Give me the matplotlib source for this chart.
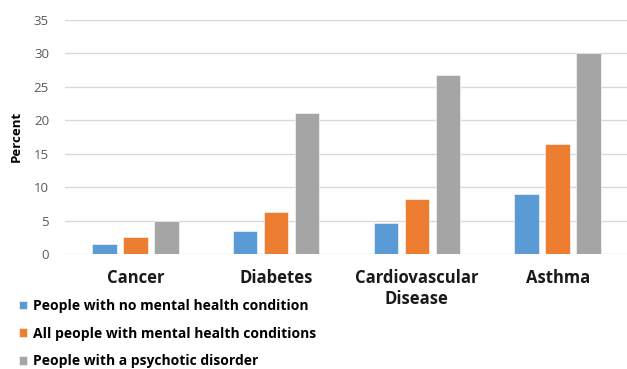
import matplotlib
matplotlib.use("Agg")
from matplotlib import pyplot as plt
import numpy as np

# Podaci
kategorije = ["Cancer", "Diabetes", "Cardiovascular\nDisease", "Asthma"]
bez_mentalnih = [1.5, 3.5, 4.6, 9.0]
sa_mentalnim = [2.6, 6.2, 8.2, 16.5]
psihoticni = [5.0, 21.0, 26.7, 30.0]
serije = [
    ("People with no mental health condition", bez_mentalnih, "#5B9BD5"),
    ("All people with mental health conditions", sa_mentalnim, "#ED7D31"),
    ("People with a psychotic disorder", psihoticni, "#A5A5A5"),
]
y_ticks = [0, 5, 10, 15, 20, 25, 30, 35]

plt.rcParams['font.family'] = ['Open Sans', 'DejaVu Sans']

fig = plt.figure(figsize=(6.27, 3.69), dpi=100)
ax = fig.add_axes([65 / 627, 0.3117, 563 / 627, 0.635])

x = np.arange(len(kategorije))
sirina = 0.174
korak = 0.22
rucke = []
for i, (ime, vrijednosti, boja) in enumerate(serije):
    b = ax.bar(x + (i - 1) * korak, vrijednosti, sirina, color=boja,
               edgecolor="white", linewidth=0.4, label=ime, zorder=3)
    rucke.append(b)

ax.set_xlim(-0.5, 3.5)
ax.set_ylim(0, 35)
ax.set_yticks(y_ticks)
ax.yaxis.grid(True, color="#D9D9D9", linewidth=1.0, zorder=0)
for s in ax.spines.values():
    s.set_visible(False)
ax.tick_params(axis="y", length=0, labelsize=9.5, labelcolor="#595959", pad=11.5)
ax.tick_params(axis="x", length=0, pad=11)
ax.set_xticks(x)
ax.set_xticklabels(kategorije, fontsize=12, fontweight="bold", color="#1a1a1a",
                   linespacing=1.2)
ax.set_ylabel("Percent", fontsize=9.5, fontweight="bold", color="#000000", labelpad=8)

fig.legend(handles=rucke, loc="upper left", bbox_to_anchor=(0.03, 0.19),
           frameon=False, prop={"weight": "bold", "size": 10},
           handlelength=0.6, handleheight=0.6, handletextpad=0.4,
           labelspacing=0.98, borderaxespad=0, borderpad=0)

fig.savefig("out.png", dpi=100)
